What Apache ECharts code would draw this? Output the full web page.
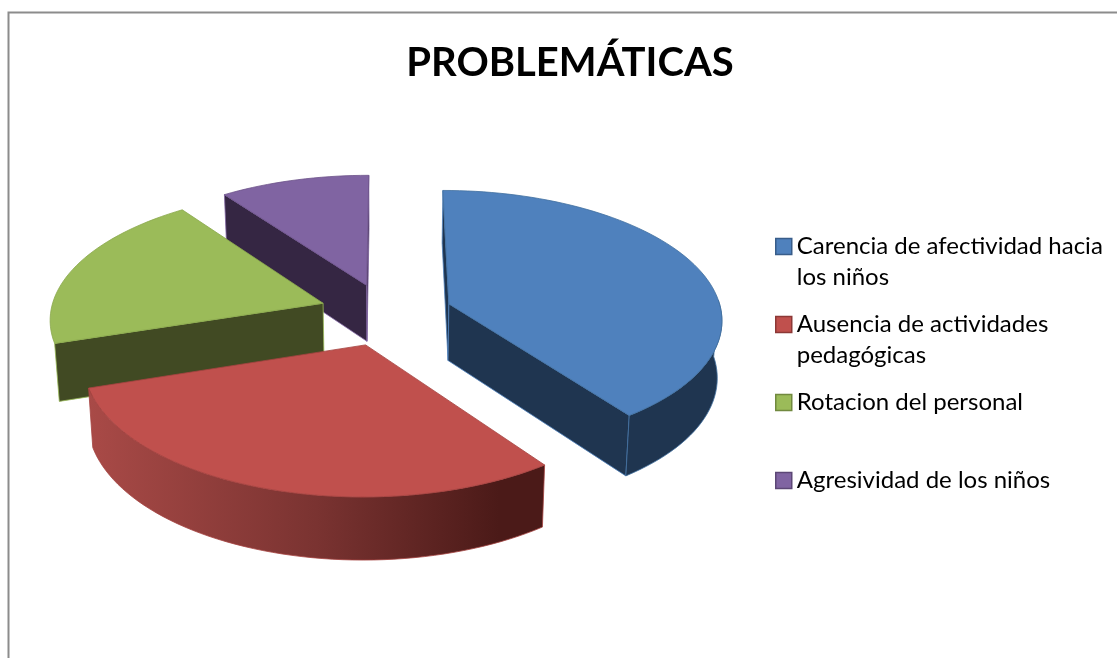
<!DOCTYPE html>
<html><head><meta charset="utf-8">
<style>html,body{margin:0;padding:0;background:#fff}#c{width:1117px;height:658px}</style>
<script src="https://cdn.jsdelivr.net/npm/echarts@6/dist/echarts.min.js"></script>
</head><body><div id="c"></div>
<script>
const chartTitle = 'PROBLEMÁTICAS';
const categories = ['Carencia de afectividad hacia los niños','Ausencia de actividades pedagógicas','Rotacion del personal','Agresividad de los niños'];
const legendLabels = ['\nCarencia de afectividad hacia\nlos niños','\nAusencia de actividades\npedagógicas','\nRotacion del personal\n ','\nAgresividad de los niños\n '];
const values = [40,30,20,10];

const topColors = ['#4f81bd','#c0504d','#9bbb59','#8064a2'];
const iconBorders = ['#385d8a','#8c3836','#71893f','#5c4776'];
const topEdges = ['#41709f','#a54340','#8aa84c','#6c5289'];
const wallColors = ['#1f3550','#74302e','#414a23','#352643'];
const redSide = {type:'linear',x:0,y:0,x2:1,y2:0,colorStops:[{offset:0,color:'#a94a47'},{offset:.5,color:'#7a3331'},{offset:.9,color:'#4b1a18'},{offset:1,color:'#4b1a18'}]};
const outerFills = [wallColors[0],redSide,wallColors[2],wallColors[3]];
const drawOrder = [2,3,2,1];
// pie perspective layout: centre, radii, tilt, thickness and per-slice pull-out
const CX=388, CY=314, R=273, RY=128, K=0.11, DEPTH=57, SHRINK=0.014;
const pull = [[.225,-.08],[-.08,.235],[-.24,-.085],[-.08,-.23]];
const total = values.reduce((a,b)=>a+b,0);

function pt(X,Y,down){
  const s=1/(1-K*Y); let x=CX+s*R*X, y=CY+s*RY*Y;
  if(down){ x+=(CX-x)*SHRINK; y+=DEPTH*Math.pow(s,.7); }
  return [x,y];
}
function facesViewer(a,b,inside){
  const dx=b[0]-a[0], dy=b[1]-a[1];
  return dx*(dx*(inside[1]-a[1])-dy*(inside[0]-a[0]))<0;
}
function slice(idx){
  return function(params,api){
    const v=api.value(0);
    let before=0; for(let i=0;i<idx;i++) before+=values[i];
    const a0=before/total*2*Math.PI, a1=(before+v)/total*2*Math.PI;
    const [ex,ey]=pull[idx];
    const n=Math.max(8,Math.round((a1-a0)*30));
    const arcT=[],arcB=[],frontT=[],frontB=[];
    for(let i=0;i<=n;i++){
      const a=a0+(a1-a0)*i/n, X=ex+Math.sin(a), Y=ey-Math.cos(a);
      const t=pt(X,Y,false), b=pt(X,Y,true);
      arcT.push(t); arcB.push(b);
      if(Math.cos(a)<=(Math.sin(a)<0?-0.3:0.05)){frontT.push(t);frontB.push(b);}
    }
    const cT=pt(ex,ey,false), cB=pt(ex,ey,true), mid=arcT[Math.round(n/2)];
    const wallStyle={fill:wallColors[idx],stroke:topColors[idx],lineWidth:.8};
    const poly=(points,style)=>({type:'polygon',shape:{points},style});
    const children=[];
    if(facesViewer(cT,arcT[0],mid)) children.push(poly([cT,arcT[0],arcB[0],cB],wallStyle));
    if(facesViewer(cT,arcT[n],mid)) children.push(poly([cT,arcT[n],arcB[n],cB],wallStyle));
    if(frontT.length>1) children.push(poly(frontT.concat(frontB.slice().reverse()),{fill:outerFills[idx],stroke:topEdges[idx],lineWidth:.8}));
    children.push(poly([cT].concat(arcT),{fill:topColors[idx],stroke:topEdges[idx],lineWidth:.8}));
    return {type:'group',children};
  };
}
const FONT='Lato';
const chart=echarts.init(document.getElementById('c'),null,{renderer:'canvas'});
chart.setOption({
  animation:false,
  backgroundColor:'#ffffff',
  title:{text:chartTitle,left:565,top:38,textAlign:'center',textStyle:{fontFamily:FONT,fontWeight:'bold',fontSize:40,color:'#000'}},
  legend:{
    orient:'vertical',left:770,top:195,itemWidth:16,itemHeight:16,itemGap:-15,selectedMode:false,icon:'rect',
    data:categories.map((name,i)=>({name,itemStyle:{color:topColors[i],borderColor:iconBorders[i],borderWidth:1.5}})),
    formatter:name=>legendLabels[categories.indexOf(name)],
    textStyle:{fontFamily:FONT,fontSize:24,color:'#000',lineHeight:31},
    itemStyle:{borderWidth:1.5}
  },
  graphic:[{type:'polyline',shape:{points:[[8.5,658],[8.5,12.5],[1117,12.5]]},style:{stroke:'#8c8c8c',lineWidth:2,fill:null},silent:true}],
  series:categories.map((name,i)=>({
    type:'custom',name,coordinateSystem:'none',z:drawOrder[i],silent:true,
    itemStyle:{color:topColors[i]},
    renderItem:slice(i),data:[values[i]]
  }))
});
</script></body></html>
